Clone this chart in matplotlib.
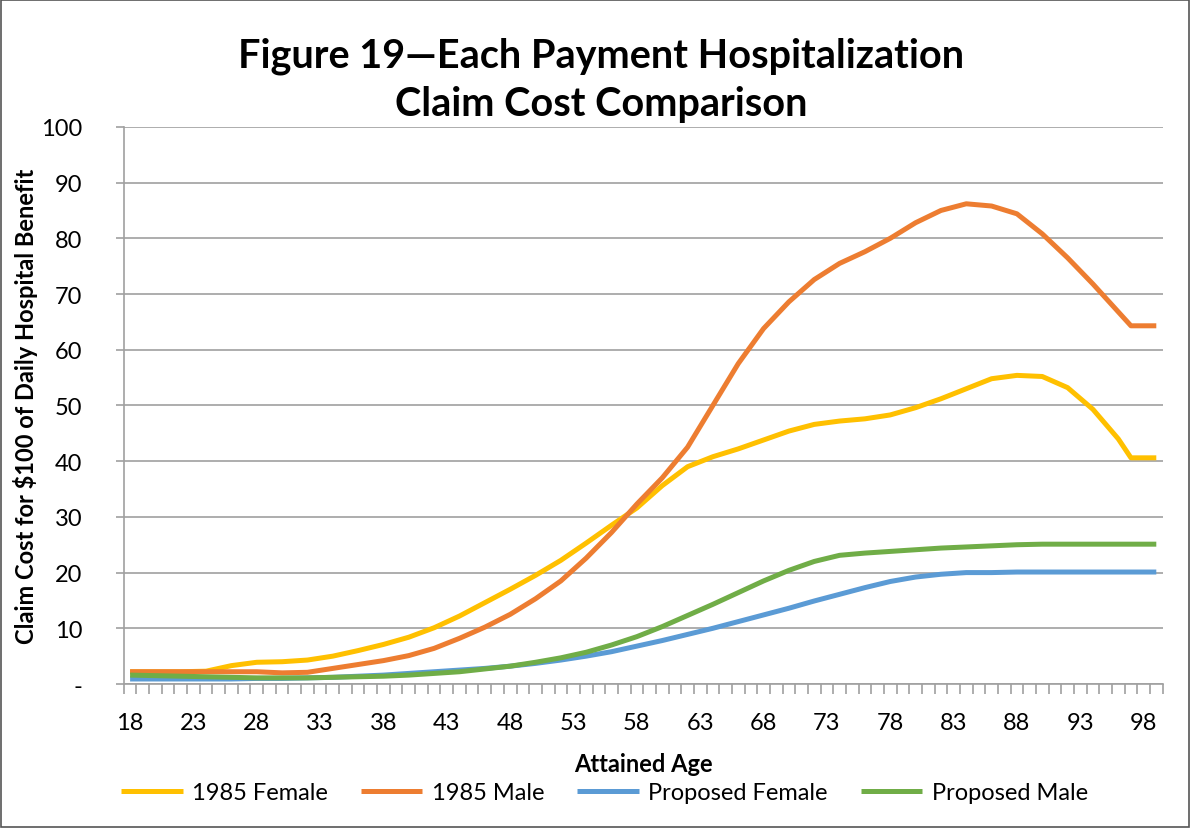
import matplotlib.pyplot as plt
from matplotlib.patches import Rectangle
from matplotlib.ticker import FixedLocator

plt.rcParams['font.family'] = ['Lato', 'DejaVu Sans']

# ages
ages = [18, 20, 22, 24, 26, 28, 30, 32, 34, 36, 38, 40, 42, 44, 46, 48, 50, 52, 54, 56,
        58, 60, 62, 64, 66, 68, 70, 72, 74, 76, 78, 80, 82, 84, 86, 88, 90, 92, 94, 96,
        97, 98, 99]

female_1985 = [2.2, 2.2, 2.2, 2.3, 3.3, 3.9, 4.0, 4.3, 5.0, 6.0, 7.1, 8.4, 10.1, 12.2, 14.6,
               17.0, 19.5, 22.2, 25.3, 28.5, 31.6, 35.6, 39.0, 40.8, 42.2, 43.8, 45.4, 46.6,
               47.2, 47.6, 48.3, 49.6, 51.2, 53.0, 54.8, 55.4, 55.2, 53.2, 49.3, 44.0, 40.6,
               40.6, 40.6]
male_1985 = [2.2, 2.2, 2.2, 2.2, 2.2, 2.2, 2.0, 2.1, 2.8, 3.5, 4.2, 5.1, 6.4, 8.2, 10.2,
             12.5, 15.3, 18.5, 22.6, 27.2, 32.3, 37.0, 42.5, 50.0, 57.5, 63.8, 68.6, 72.6,
             75.5, 77.6, 80.0, 82.8, 85.0, 86.2, 85.8, 84.4, 80.8, 76.5, 71.8, 66.8, 64.3,
             64.3, 64.3]
prop_female = [0.9, 0.9, 0.9, 0.9, 0.9, 1.0, 1.0, 1.1, 1.2, 1.4, 1.6, 1.9, 2.2, 2.5, 2.8,
               3.2, 3.7, 4.3, 5.0, 5.8, 6.8, 7.8, 8.9, 10.0, 11.2, 12.4, 13.6, 14.9, 16.1,
               17.3, 18.4, 19.2, 19.7, 20.0, 20.0, 20.1, 20.1, 20.1, 20.1, 20.1, 20.1, 20.1,
               20.1]
prop_male = [1.6, 1.5, 1.4, 1.3, 1.2, 1.1, 1.1, 1.1, 1.2, 1.3, 1.4, 1.6, 1.9, 2.2, 2.7,
             3.2, 3.9, 4.7, 5.7, 7.0, 8.5, 10.3, 12.3, 14.3, 16.4, 18.5, 20.4, 22.0, 23.1,
             23.5, 23.8, 24.1, 24.4, 24.6, 24.8, 25.0, 25.1, 25.1, 25.1, 25.1, 25.1, 25.1,
             25.1]

series = [("1985 Female", female_1985, "#FFC000"),
          ("1985 Male", male_1985, "#ED7D31"),
          ("Proposed Female", prop_female, "#5B9BD5"),
          ("Proposed Male", prop_male, "#70AD47")]

x_labels = list(range(18, 99, 5))
y_ticks = list(range(0, 101, 10))

fig = plt.figure(figsize=(11.9, 8.29), dpi=100)
ax = fig.add_axes([0.104, 0.1737, 0.873, 0.672])

for name, vals, col in series:
    ax.plot(ages, vals, color=col, lw=3.6, label=name, solid_capstyle='butt',
            solid_joinstyle='round')

ax.set_xlim(17.5, 99.5)
ax.set_ylim(0, 100)

# label positions (no tick marks) and category-boundary tick marks
ax.set_xticks(x_labels)
ax.set_xticklabels([str(a) for a in x_labels], fontsize=17)
ax.tick_params(axis='x', which='major', length=0, pad=20)
ax.xaxis.set_minor_locator(FixedLocator([a + 0.5 for a in range(17, 100)]))
ax.tick_params(axis='x', which='minor', length=7, color='#A0A0A0', width=1.2)

ax.set_yticks(y_ticks)
ax.set_yticklabels(['-'] + [str(v) for v in y_ticks[1:]], fontsize=17)
ax.tick_params(axis='y', length=6, color='#A0A0A0', width=1.2, pad=24)
ax.grid(axis='y', color='#A0A0A0', lw=1.2)
ax.set_axisbelow(True)

for s in ['top', 'right']:
    ax.spines[s].set_visible(False)
for s in ['left', 'bottom']:
    ax.spines[s].set_color('#A0A0A0')
    ax.spines[s].set_linewidth(1.2)

ax.set_xlabel("Attained Age", fontsize=17, fontweight='bold', labelpad=14)
ax.set_ylabel("Claim Cost for $100 of Daily Hospital Benefit", fontsize=17,
              fontweight='bold', labelpad=2)

fig.text(0.505, 0.903, "Figure 19\u2014Each Payment Hospitalization\nClaim Cost Comparison",
         ha='center', va='center', fontsize=28.5, fontweight='bold', linespacing=1.38)

fig.legend(loc='center', bbox_to_anchor=(0.508, 0.043), ncol=4, frameon=False,
           fontsize=17, handlelength=2.6, columnspacing=1.4, handletextpad=0.4)

fig.patches.append(Rectangle((0.001, 0.001), 0.998, 0.998, transform=fig.transFigure,
                             fill=False, edgecolor='#555555', lw=1.2))

fig.savefig("out.png", dpi=100)
